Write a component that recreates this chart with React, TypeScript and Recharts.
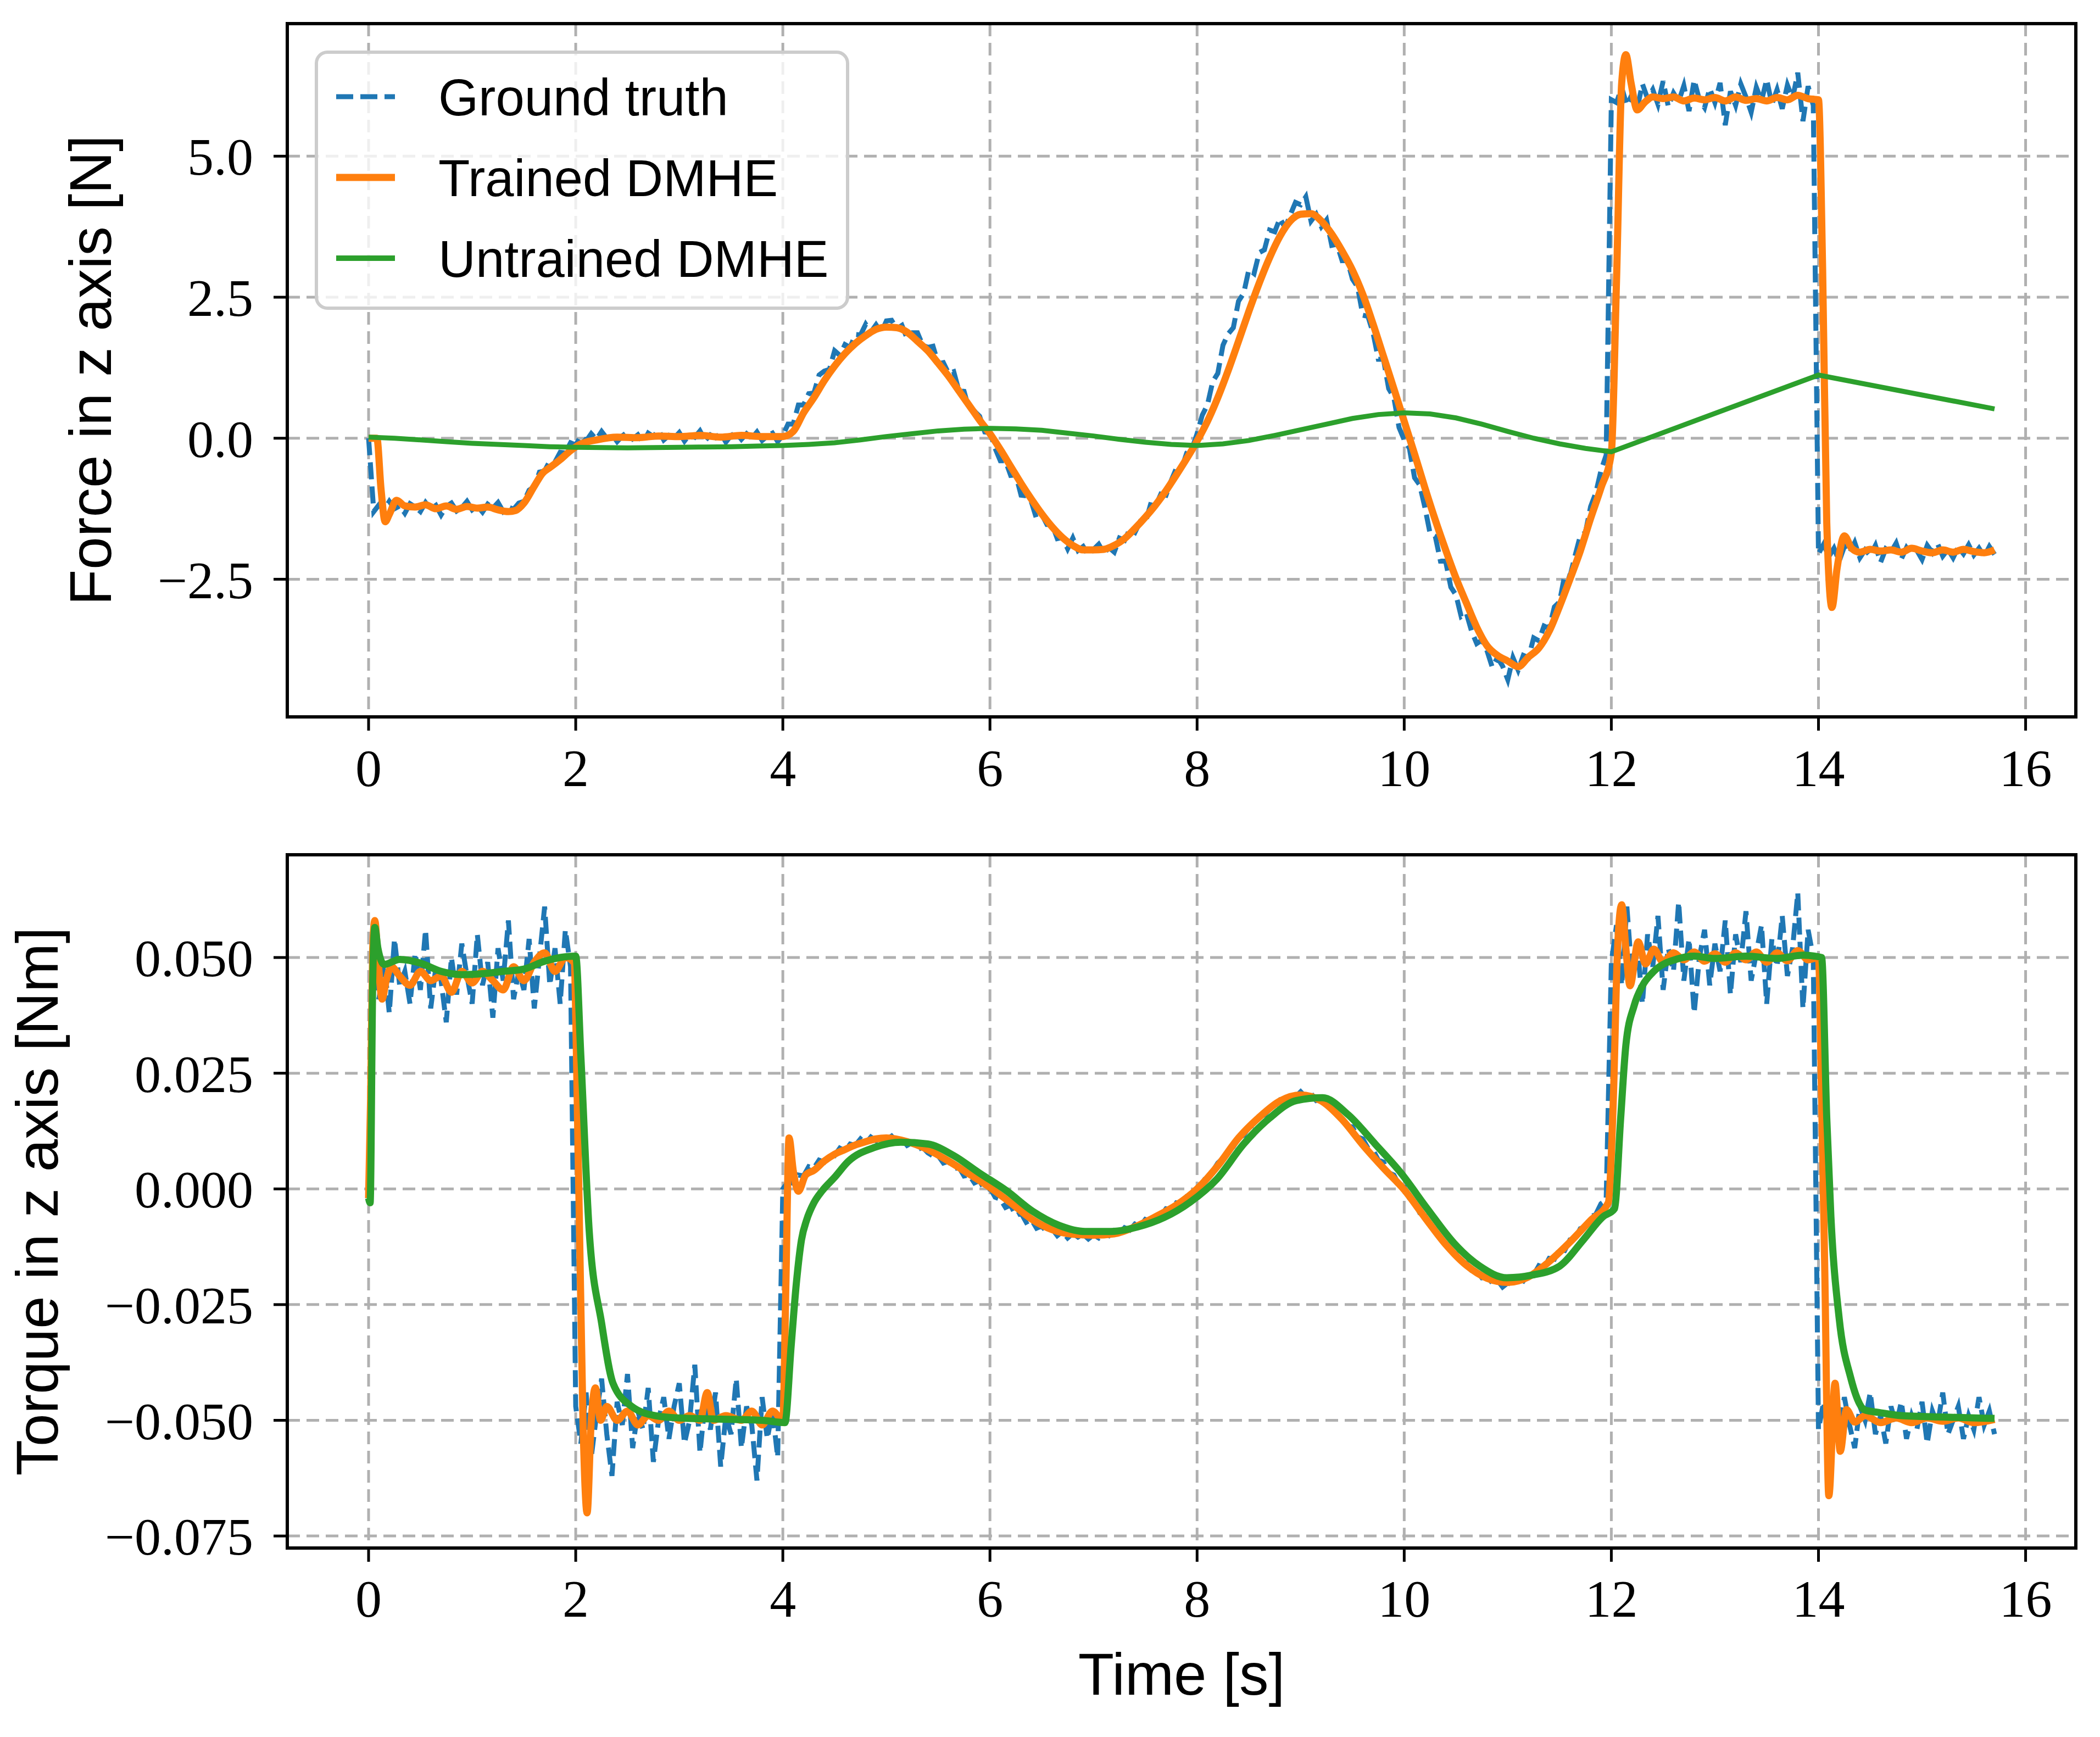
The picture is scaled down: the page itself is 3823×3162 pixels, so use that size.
import React from 'react';
import { LineChart, Line, XAxis, YAxis, CartesianGrid, Legend, ReferenceArea } from 'recharts';

const BLUE = '#1f77b4';
const ORANGE = '#ff7f0e';
const GREEN = '#2ca02c';

const STEP = 0.05;
const timeTicks = [0, 2, 4, 6, 8, 10, 12, 14, 16];
const forceTicks = [-2.5, 0, 2.5, 5];
const torqueTicks = [-0.075, -0.05, -0.025, 0, 0.025, 0.05];

// ground truth, sampled every 0.05 s (one row = one second)
const forceTruth = [
  0.0, -1.30, -1.18, -1.27, -1.12, -1.25, -1.20, -1.33, -1.16, -1.22, -1.30, -1.14, -1.26, -1.19, -1.36, -1.21, -1.15, -1.29, -1.23, -1.12,
  -1.27, -1.20, -1.31, -1.17, -1.24, -1.14, -1.30, -1.22, -1.26, -1.15, -1.12, -0.92, -0.86, -0.60, -0.58, -0.40, -0.42, -0.25, -0.26, -0.08,
  -0.12, 0.04, -0.05, 0.08, -0.02, 0.12, 0.00, 0.07, -0.06, 0.04, 0.11, -0.01, 0.06, -0.08, 0.09, 0.03, 0.14, -0.03, 0.05, 0.00,
  0.10, -0.05, 0.07, 0.02, 0.13, -0.04, 0.06, 0.01, 0.09, -0.07, 0.05, 0.10, -0.02, 0.08, 0.00, 0.11, -0.04, 0.04, 0.09, -0.06,
  0.05, 0.25, 0.25, 0.59, 0.59, 0.79, 0.80, 1.12, 1.19, 1.22, 1.55, 1.47, 1.66, 1.61, 1.84, 1.83, 2.02, 1.88, 2.01, 1.87,
  2.08, 2.09, 1.94, 2.00, 1.77, 1.87, 1.87, 1.65, 1.61, 1.63, 1.32, 1.34, 1.15, 1.18, 0.84, 0.83, 0.50, 0.48, 0.39, 0.11,
  0.10, -0.18, -0.40, -0.40, -0.66, -0.65, -1.01, -1.02, -1.13, -1.43, -1.35, -1.53, -1.53, -1.78, -1.76, -1.96, -1.77, -1.99, -1.92, -2.07,
  -1.97, -1.88, -2.04, -1.94, -2.02, -1.77, -1.81, -1.61, -1.67, -1.48, -1.50, -1.18, -1.20, -0.99, -1.01, -0.75, -0.53, -0.54, -0.26, -0.19,
  0.08, 0.41, 0.59, 1.00, 1.15, 1.65, 1.85, 1.96, 2.43, 2.57, 2.99, 2.92, 3.29, 3.34, 3.69, 3.66, 3.90, 3.73, 3.96, 4.18,
  4.14, 4.28, 3.85, 3.97, 3.75, 3.87, 3.42, 3.44, 3.15, 3.16, 2.82, 2.68, 2.18, 2.16, 1.86, 1.40, 1.40, 0.88, 0.72, 0.19,
  -0.03, -0.18, -0.70, -0.83, -1.23, -1.69, -1.74, -2.18, -2.18, -2.64, -2.78, -3.16, -3.10, -3.42, -3.64, -3.58, -3.77, -4.06, -3.89, -4.04,
  -4.28, -3.89, -4.11, -3.85, -3.89, -3.54, -3.59, -3.33, -3.37, -2.99, -2.90, -2.42, -2.45, -2.08, -1.73, -1.67, -1.21, -0.97, -0.57, -0.30,
  6.00, 5.95, 6.22, 5.90, 6.10, 5.85, 6.28, 6.02, 6.18, 5.92, 6.33, 5.88, 6.12, 5.97, 6.25, 5.80, 6.35, 6.00, 5.86, 6.20,
  5.95, 6.30, 5.55, 6.15, 5.90, 6.28, 6.05, 5.78, 6.22, 5.98, 6.36, 5.92, 6.18, 5.84, 6.26, 6.02, 6.48, 5.62, 6.24, 5.90,
  -2.05, -1.88, -2.10, -1.95, -2.18, -1.92, -2.04, -1.85, -2.12, -1.98, -2.08, -1.90, -2.20, -1.96, -2.02, -1.86, -2.14, -1.94, -2.06, -1.99,
  -2.15, -1.90, -2.03, -1.87, -2.09, -1.97, -2.12, -1.93, -2.05, -1.89, -2.07, -1.95, -2.10, -1.92, -2.06,
];

// [time, value]
const forceTrained: [number, number][] = [
  [0, 0.0], [0.08, 0.0], [0.12, -0.9], [0.16, -1.48], [0.2, -1.35], [0.27, -1.1], [0.35, -1.2], [0.45, -1.22],
  [0.55, -1.18], [0.65, -1.25], [0.75, -1.2], [0.85, -1.26], [0.95, -1.21], [1.05, -1.24], [1.15, -1.22], [1.25, -1.27],
  [1.35, -1.3], [1.42, -1.28], [1.5, -1.15], [1.6, -0.85], [1.68, -0.62], [1.75, -0.52], [1.85, -0.38], [1.95, -0.22],
  [2.05, -0.1], [2.2, -0.03], [2.4, 0.02], [2.6, 0.01], [2.8, 0.04], [3.0, 0.03], [3.2, 0.05], [3.4, 0.02], [3.6, 0.05],
  [3.8, 0.03], [4.0, 0.03], [4.1, 0.12], [4.2, 0.45], [4.3, 0.72], [4.4, 1.02], [4.5, 1.28], [4.6, 1.5], [4.7, 1.68],
  [4.8, 1.82], [4.9, 1.93], [5.0, 1.97], [5.1, 1.96], [5.2, 1.88], [5.3, 1.72], [5.4, 1.55], [5.5, 1.33], [5.6, 1.1],
  [5.7, 0.84], [5.8, 0.58], [5.9, 0.32], [6.0, 0.08], [6.1, -0.2], [6.2, -0.5], [6.3, -0.8], [6.4, -1.08], [6.5, -1.34],
  [6.6, -1.57], [6.7, -1.76], [6.8, -1.9], [6.9, -1.98], [7.0, -1.98], [7.1, -1.97], [7.2, -1.9], [7.3, -1.78], [7.4, -1.6],
  [7.5, -1.4], [7.6, -1.18], [7.7, -0.93], [7.8, -0.65], [7.9, -0.36], [8.0, -0.05], [8.1, 0.3], [8.2, 0.72], [8.3, 1.2],
  [8.4, 1.72], [8.5, 2.25], [8.6, 2.75], [8.7, 3.2], [8.8, 3.58], [8.9, 3.85], [9.0, 3.97], [9.1, 3.98], [9.2, 3.85],
  [9.3, 3.62], [9.4, 3.32], [9.5, 2.98], [9.6, 2.55], [9.7, 2.02], [9.8, 1.45], [9.9, 0.88], [10.0, 0.3], [10.1, -0.28],
  [10.2, -0.88], [10.3, -1.45], [10.4, -1.98], [10.5, -2.48], [10.6, -2.92], [10.7, -3.35], [10.8, -3.68], [10.9, -3.85],
  [11.0, -3.95], [11.1, -4.05], [11.2, -3.88], [11.3, -3.72], [11.4, -3.42], [11.5, -2.98], [11.6, -2.5], [11.7, -2.0],
  [11.8, -1.42], [11.9, -0.88], [12.0, -0.26], [12.05, 2.8], [12.1, 6.3], [12.14, 6.8], [12.19, 6.3], [12.25, 5.82],
  [12.32, 5.95], [12.4, 6.05], [12.5, 6.02], [12.6, 6.05], [12.7, 5.98], [12.8, 6.03], [12.9, 6.0], [13.0, 6.04],
  [13.1, 5.98], [13.2, 6.05], [13.3, 5.99], [13.4, 6.02], [13.5, 5.98], [13.6, 6.04], [13.7, 6.0], [13.8, 6.08],
  [13.9, 6.02], [14.0, 6.0], [14.04, 3.0], [14.08, -1.5], [14.13, -3.0], [14.18, -2.3], [14.25, -1.73], [14.32, -1.95],
  [14.4, -2.02], [14.5, -1.97], [14.6, -2.0], [14.7, -1.98], [14.8, -2.02], [14.9, -1.95], [15.0, -2.0], [15.1, -2.03],
  [15.2, -1.98], [15.3, -2.02], [15.4, -1.97], [15.5, -2.01], [15.6, -2.03], [15.7, -1.98],
];

const forceUntrained: [number, number][] = [
  [0, 0.02], [0.25, 0.0], [0.5, -0.03], [0.75, -0.06], [1.0, -0.09], [1.25, -0.11], [1.5, -0.13], [1.75, -0.15],
  [2.0, -0.16], [2.25, -0.165], [2.5, -0.17], [2.75, -0.165], [3.0, -0.16], [3.25, -0.155], [3.5, -0.15], [3.75, -0.14],
  [4.0, -0.13], [4.25, -0.11], [4.5, -0.08], [4.75, -0.03], [5.0, 0.03], [5.25, 0.08], [5.5, 0.13], [5.75, 0.16],
  [6.0, 0.175], [6.25, 0.165], [6.5, 0.14], [6.75, 0.09], [7.0, 0.04], [7.25, -0.02], [7.5, -0.07], [7.75, -0.11],
  [8.0, -0.13], [8.25, -0.1], [8.5, -0.04], [8.75, 0.05], [9.0, 0.15], [9.25, 0.25], [9.5, 0.35], [9.75, 0.42],
  [10.0, 0.45], [10.25, 0.43], [10.5, 0.36], [10.75, 0.25], [11.0, 0.12], [11.25, 0.0], [11.5, -0.1], [11.75, -0.18],
  [12.0, -0.24], [14.0, 1.12], [15.7, 0.52],
];

const torqueTruth = [
  0.000, 0.052, 0.041, 0.049, 0.038, 0.054, 0.044, 0.047, 0.040, 0.051, 0.043, 0.056, 0.039, 0.048, 0.045, 0.036, 0.050, 0.042, 0.053, 0.046,
  0.040, 0.055, 0.044, 0.049, 0.037, 0.052, 0.045, 0.058, 0.041, 0.047, 0.043, 0.054, 0.039, 0.050, 0.061, 0.044, 0.052, 0.040, 0.056, 0.048,
  -0.047, -0.055, -0.044, -0.058, -0.049, -0.041, -0.053, -0.062, -0.046, -0.051, -0.040, -0.056, -0.048, -0.052, -0.043, -0.059, -0.050, -0.045, -0.054, -0.047,
  -0.042, -0.055, -0.050, -0.038, -0.057, -0.046, -0.052, -0.044, -0.060, -0.049, -0.053, -0.041, -0.056, -0.047, -0.051, -0.063, -0.045, -0.054, -0.048, -0.058,
  0.0000, 0.0015, 0.0012, 0.0030, 0.0028, 0.0048, 0.0045, 0.0062, 0.0058, 0.0075, 0.0072, 0.0088, 0.0082, 0.0097, 0.0094, 0.0108, 0.0098, 0.0112, 0.0104, 0.0116,
  0.0106, 0.0114, 0.0101, 0.0108, 0.0094, 0.0100, 0.0085, 0.0090, 0.0078, 0.0071, 0.0072, 0.0056, 0.0060, 0.0043, 0.0047, 0.0028, 0.0030, 0.0013, 0.0018, -0.0003,
  0.0002, -0.0018, -0.0022, -0.0040, -0.0035, -0.0058, -0.0052, -0.0072, -0.0066, -0.0085, -0.0080, -0.0094, -0.0086, -0.0101, -0.0092, -0.0106, -0.0096, -0.0104, -0.0098, -0.0108,
  -0.0099, -0.0106, -0.0095, -0.0101, -0.0090, -0.0097, -0.0084, -0.0089, -0.0076, -0.0081, -0.0066, -0.0070, -0.0055, -0.0058, -0.0043, -0.0045, -0.0030, -0.0031, -0.0016, -0.0012,
  0.0003, 0.0012, 0.0030, 0.0038, 0.0056, 0.0066, 0.0082, 0.0091, 0.0110, 0.0116, 0.0133, 0.0138, 0.0155, 0.0160, 0.0172, 0.0178, 0.0192, 0.0188, 0.0203, 0.0199,
  0.0210, 0.0198, 0.0206, 0.0191, 0.0194, 0.0176, 0.0180, 0.0160, 0.0156, 0.0135, 0.0134, 0.0112, 0.0108, 0.0088, 0.0084, 0.0062, 0.0058, 0.0035, 0.0030, 0.0008,
  0.0004, -0.0020, -0.0028, -0.0052, -0.0058, -0.0080, -0.0088, -0.0108, -0.0116, -0.0133, -0.0140, -0.0157, -0.0160, -0.0176, -0.0178, -0.0192, -0.0190, -0.0203, -0.0197, -0.0212,
  -0.0203, -0.0208, -0.0194, -0.0199, -0.0182, -0.0186, -0.0166, -0.0170, -0.0150, -0.0152, -0.0130, -0.0133, -0.0110, -0.0108, -0.0086, -0.0082, -0.0060, -0.0055, -0.0032, -0.0024,
  0.049, 0.057, 0.044, 0.061, 0.046, 0.053, 0.040, 0.055, 0.048, 0.059, 0.043, 0.052, 0.047, 0.062, 0.045, 0.054, 0.038, 0.050, 0.056, 0.044,
  0.053, 0.047, 0.058, 0.042, 0.055, 0.049, 0.060, 0.045, 0.051, 0.057, 0.040, 0.054, 0.048, 0.059, 0.046, 0.052, 0.064, 0.039, 0.056, 0.050,
  -0.052, -0.046, -0.054, -0.048, -0.053, -0.045, -0.051, -0.056, -0.047, -0.050, -0.044, -0.053, -0.049, -0.055, -0.047, -0.051, -0.046, -0.054, -0.049, -0.052,
  -0.046, -0.055, -0.048, -0.051, -0.044, -0.053, -0.050, -0.047, -0.054, -0.049, -0.052, -0.045, -0.051, -0.048, -0.053,
];

const torqueTrained: [number, number][] = [
  [0, -0.002], [0.02, 0.02], [0.04, 0.052], [0.06, 0.058], [0.09, 0.05], [0.13, 0.041], [0.17, 0.045], [0.22, 0.048],
  [0.3, 0.046], [0.4, 0.044], [0.5, 0.047], [0.6, 0.045], [0.7, 0.046], [0.8, 0.0425], [0.9, 0.047], [1.0, 0.0445],
  [1.1, 0.047], [1.2, 0.045], [1.3, 0.043], [1.4, 0.048], [1.5, 0.045], [1.6, 0.049], [1.7, 0.051], [1.8, 0.047],
  [1.9, 0.05], [1.98, 0.049], [2.03, 0.0], [2.07, -0.05], [2.11, -0.07], [2.15, -0.05], [2.19, -0.043], [2.24, -0.05],
  [2.3, -0.047], [2.4, -0.05], [2.5, -0.048], [2.6, -0.051], [2.7, -0.049], [2.8, -0.05], [2.9, -0.048], [3.0, -0.05],
  [3.1, -0.049], [3.2, -0.05], [3.27, -0.044], [3.33, -0.05], [3.45, -0.049], [3.6, -0.05], [3.7, -0.048], [3.8, -0.051],
  [3.9, -0.048], [4.0, -0.05], [4.03, -0.02], [4.06, 0.011], [4.1, 0.004], [4.15, -0.0005], [4.22, 0.003], [4.3, 0.004],
  [4.4, 0.006], [4.5, 0.0075], [4.6, 0.0085], [4.7, 0.0095], [4.8, 0.0102], [4.9, 0.0108], [5.0, 0.011], [5.2, 0.0102],
  [5.4, 0.0085], [5.6, 0.006], [5.8, 0.0032], [6.0, 0.0003], [6.2, -0.003], [6.4, -0.0065], [6.6, -0.0088], [6.8, -0.0098],
  [7.0, -0.01], [7.2, -0.0097], [7.4, -0.0082], [7.6, -0.006], [7.8, -0.0035], [8.0, 0.0], [8.2, 0.005], [8.4, 0.011],
  [8.6, 0.0155], [8.8, 0.019], [9.0, 0.0203], [9.2, 0.019], [9.4, 0.015], [9.6, 0.0095], [9.8, 0.0045], [10.0, -0.0002],
  [10.2, -0.0062], [10.4, -0.012], [10.6, -0.0165], [10.8, -0.0193], [11.0, -0.0202], [11.2, -0.019], [11.4, -0.0157],
  [11.6, -0.0115], [11.8, -0.0068], [11.97, -0.003], [12.02, 0.02], [12.06, 0.052], [12.1, 0.0614], [12.14, 0.052],
  [12.18, 0.0439], [12.26, 0.0534], [12.33, 0.0486], [12.41, 0.0518], [12.5, 0.049], [12.6, 0.051], [12.7, 0.0495],
  [12.8, 0.0512], [12.9, 0.0492], [13.0, 0.0508], [13.1, 0.049], [13.2, 0.051], [13.3, 0.0495], [13.4, 0.0512],
  [13.5, 0.049], [13.6, 0.051], [13.7, 0.0493], [13.8, 0.0515], [13.9, 0.0495], [14.0, 0.05], [14.03, 0.02],
  [14.06, -0.0165], [14.1, -0.0663], [14.16, -0.042], [14.21, -0.0567], [14.27, -0.0477], [14.35, -0.0504],
  [14.45, -0.049], [14.6, -0.0505], [14.75, -0.0495], [14.9, -0.0505], [15.05, -0.0495], [15.2, -0.0502],
  [15.35, -0.0495], [15.5, -0.0505], [15.7, -0.0498],
];

const torqueUntrained: [number, number][] = [
  [0, -0.002], [0.015, -0.003], [0.04, 0.045], [0.06, 0.0565], [0.09, 0.052], [0.15, 0.0485], [0.3, 0.0496],
  [0.5, 0.0488], [0.7, 0.047], [0.9, 0.0463], [1.1, 0.0465], [1.3, 0.047], [1.5, 0.0475], [1.7, 0.0492], [1.85, 0.05],
  [2.0, 0.0503], [2.05, 0.0285], [2.13, -0.009], [2.25, -0.029], [2.36, -0.042], [2.54, -0.047], [2.77, -0.049],
  [3.0, -0.0495], [3.5, -0.0498], [3.8, -0.05], [4.02, -0.0505], [4.08, -0.034], [4.13, -0.0205], [4.18, -0.011],
  [4.23, -0.0067], [4.3, -0.003], [4.38, -0.0004], [4.5, 0.0025], [4.63, 0.0059], [4.89, 0.009], [5.14, 0.0101],
  [5.4, 0.0097], [5.65, 0.0072], [5.9, 0.0034], [6.16, -0.0004], [6.41, -0.0048], [6.67, -0.0079], [6.92, -0.0092],
  [7.17, -0.0092], [7.43, -0.0082], [7.68, -0.0062], [7.93, -0.0029], [8.19, 0.0021], [8.45, 0.0097], [8.7, 0.0153],
  [8.96, 0.0191], [9.21, 0.0197], [9.46, 0.016], [9.72, 0.0097], [9.97, 0.0034], [10.22, -0.0042], [10.48, -0.0117],
  [10.73, -0.0167], [10.99, -0.0192], [11.24, -0.0186], [11.5, -0.0167], [11.73, -0.011], [11.92, -0.006],
  [12.03, -0.0043], [12.09, 0.0153], [12.14, 0.031], [12.22, 0.0396], [12.3, 0.0439], [12.41, 0.047], [12.64, 0.0497],
  [12.8, 0.0503], [13.0, 0.0498], [13.3, 0.0503], [13.6, 0.0498], [13.85, 0.0505], [14.03, 0.05], [14.08, 0.0153],
  [14.12, -0.006], [14.2, -0.028], [14.31, -0.0407], [14.45, -0.0478], [14.58, -0.0483], [14.8, -0.049],
  [15.2, -0.0493], [15.7, -0.0496],
];

const sampled = (vals: number[]) => vals.map((v, i) => ({ t: Math.round(i * STEP * 100) / 100, v }));
const pairs = (pts: [number, number][]) => pts.map(([t, v]) => ({ t, v }));

const SERIF = '"Liberation Serif", "DejaVu Serif", serif';
const SANS = '"Liberation Sans", Arial, sans-serif';
const X_DOMAIN: [number, number] = [-0.785, 16.485];

const minus = (s: string) => s.replace('-', '\u2212');
const fmtForce = (v: number) => minus(v.toFixed(1));
const fmtTorque = (v: number) => minus(v.toFixed(3));

const legendLook: Record<string, { w: number; dash?: string }> = {
  'Ground truth': { w: 9, dash: '31 13' },
  'Trained DMHE': { w: 13 },
  'Untrained DMHE': { w: 10 },
};

function LegendBox(props: any) {
  const items = props.payload ?? [];
  return (
    <svg width={973} height={472} style={{ display: 'block' }}>
      <rect x={3} y={3} width={967} height={466} rx={20} fill="#ffffff" fillOpacity={0.8} stroke="#cccccc" strokeWidth={6} />
      {items.map((it: any, i: number) => {
        const cy = 84 + i * 147;
        const look = legendLook[it.value] ?? { w: 10 };
        return (
          <g key={it.value}>
            <line x1={39} x2={146} y1={cy} y2={cy} stroke={it.color} strokeWidth={look.w} strokeDasharray={look.dash} />
            <text x={225} y={cy + 34} fontSize={94} fontFamily={SANS} fill="#000">{it.value}</text>
          </g>
        );
      })}
    </svg>
  );
}

const yLabel = (text: string, baseX: number, fallbackY: number) => (props: any) => {
  const vb = props?.viewBox ?? {};
  const cy = vb.y != null && vb.height != null ? vb.y + vb.height / 2 : fallbackY;
  const x = (vb.x ?? 0) + baseX;
  return (
    <text x={x} y={cy} transform={`rotate(-90 ${x} ${cy})`} textAnchor="middle" fontSize={107} fontFamily={SANS} fill="#000">
      {text}
    </text>
  );
};

const xLabel = (props: any) => {
  const vb = props?.viewBox ?? {};
  const cx = vb.x != null ? vb.x + vb.width / 2 : 2151;
  const y = (vb.y ?? 1318) + 267;
  return (
    <text x={cx} y={y} textAnchor="middle" fontSize={107} fontFamily={SANS} fill="#000">Time [s]</text>
  );
};

const tickStyle = { fontFamily: SERIF, fontSize: 96, fill: '#000' };
const tickLine = { stroke: '#000', strokeWidth: 5 };

export default function App() {
  return (
    <div style={{ position: 'absolute', left: 0, top: 0, width: 3823, height: 3162, background: '#fff' }}>
      <div style={{ position: 'absolute', left: 0, top: 0 }}>
        <LineChart width={3823} height={1500} margin={{ top: 43, right: 44, bottom: 45, left: 0 }}>
          <CartesianGrid stroke="#b0b0b0" strokeWidth={5} strokeDasharray="23 12" />
          <XAxis type="number" dataKey="t" domain={X_DOMAIN} ticks={timeTicks} allowDataOverflow interval={0}
            height={150} axisLine={false} tickLine={tickLine} tickSize={25} tickMargin={33} tick={tickStyle} />
          <YAxis type="number" domain={[-4.94, 7.35]} ticks={forceTicks} allowDataOverflow interval={0}
            width={523} axisLine={false} tickLine={tickLine} tickSize={25} tickMargin={37} tick={tickStyle}
            tickFormatter={fmtForce} label={yLabel('Force in z axis [N]', 202, 674)} />
          <ReferenceArea x1={X_DOMAIN[0]} x2={X_DOMAIN[1]} y1={-4.94} y2={7.35} fill="none" stroke="#000" strokeWidth={6} />
          <Line data={sampled(forceTruth)} dataKey="v" name="Ground truth" type="linear" stroke={BLUE} strokeWidth={9}
            strokeDasharray="31 13" dot={false} activeDot={false} isAnimationActive={false} />
          <Line data={pairs(forceTrained)} dataKey="v" name="Trained DMHE" type="monotone" stroke={ORANGE} strokeWidth={13}
            dot={false} activeDot={false} isAnimationActive={false} />
          <Line data={pairs(forceUntrained)} dataKey="v" name="Untrained DMHE" type="linear" stroke={GREEN} strokeWidth={9}
            dot={false} activeDot={false} isAnimationActive={false} />
          <Legend layout="vertical" align="center" verticalAlign="middle" content={LegendBox}
            wrapperStyle={{ left: 573, top: 92, width: 973, height: 472 }} />
        </LineChart>
      </div>
      <div style={{ position: 'absolute', left: 0, top: 1500 }}>
        <LineChart width={3823} height={1662} margin={{ top: 56, right: 44, bottom: 194, left: 0 }}>
          <CartesianGrid stroke="#b0b0b0" strokeWidth={5} strokeDasharray="23 12" />
          <XAxis type="number" dataKey="t" domain={X_DOMAIN} ticks={timeTicks} allowDataOverflow interval={0}
            height={150} axisLine={false} tickLine={tickLine} tickSize={25} tickMargin={32} tick={tickStyle}
            label={xLabel} />
          <YAxis type="number" domain={[-0.0776, 0.0722]} ticks={torqueTicks} allowDataOverflow interval={0}
            width={523} axisLine={false} tickLine={tickLine} tickSize={25} tickMargin={37} tick={tickStyle}
            tickFormatter={fmtTorque} label={yLabel('Torque in z axis [Nm]', 105, 687)} />
          <ReferenceArea x1={X_DOMAIN[0]} x2={X_DOMAIN[1]} y1={-0.0776} y2={0.0722} fill="none" stroke="#000" strokeWidth={6} />
          <Line data={sampled(torqueTruth)} dataKey="v" name="Ground truth" type="linear" stroke={BLUE} strokeWidth={9}
            strokeDasharray="31 13" dot={false} activeDot={false} isAnimationActive={false} />
          <Line data={pairs(torqueTrained)} dataKey="v" name="Trained DMHE" type="monotone" stroke={ORANGE} strokeWidth={13}
            dot={false} activeDot={false} isAnimationActive={false} />
          <Line data={pairs(torqueUntrained)} dataKey="v" name="Untrained DMHE" type="monotone" stroke={GREEN} strokeWidth={13}
            dot={false} activeDot={false} isAnimationActive={false} />
        </LineChart>
      </div>
    </div>
  );
}
